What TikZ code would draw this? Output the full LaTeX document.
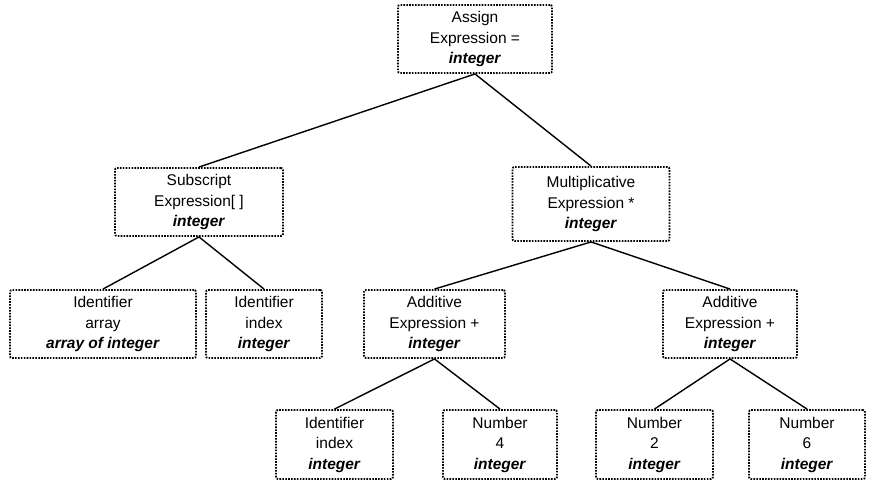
\documentclass[tikz,border=0pt]{standalone}
\usepackage{fontspec}
\setmainfont{Liberation Sans}
\begin{document}
\begin{tikzpicture}[x=1pt,y=-1pt,
  box/.style={draw, line width=1.9pt, dash pattern=on 1.6pt off 1.3pt, rounded corners=2pt,
    align=center, inner sep=0pt, font=\fontsize{15.5}{20.5}\selectfont},
  conn/.style={draw, line width=1.4pt}]
\useasboundingbox (0,0) rectangle (875,489);
\newcommand{\typ}[1]{\textbf{\textit{#1}}}
% top
\node[box, minimum width=154pt, minimum height=68pt] (assign) at (475,39) {Assign\\Expression =\\\typ{integer}};
% second row
\node[box, minimum width=168pt, minimum height=68pt] (sub) at (199,202) {Subscript\\Expression[ ]\\\typ{integer}};
\node[box, minimum width=157pt, minimum height=74pt] (mult) at (591,204) {Multiplicative\\Expression *\\\typ{integer}};
% third row
\node[box, minimum width=186pt, minimum height=68pt] (arr) at (103,324) {Identifier\\array\\\typ{array of integer}};
\node[box, minimum width=116pt, minimum height=68pt] (idx1) at (264,324) {Identifier\\index\\\typ{integer}};
\node[box, minimum width=141pt, minimum height=68pt] (addl) at (434.5,324) {Additive\\Expression +\\\typ{integer}};
\node[box, minimum width=134pt, minimum height=68pt] (addr) at (730,324) {Additive\\Expression +\\\typ{integer}};
% bottom row
\node[box, minimum width=117pt, minimum height=69pt] (idx2) at (334.5,444.5) {Identifier\\index\\\typ{integer}};
\node[box, minimum width=114pt, minimum height=69pt] (n4) at (500,444.5) {Number\\4\\\typ{integer}};
\node[box, minimum width=117pt, minimum height=69pt] (n2) at (654.5,444.5) {Number\\2\\\typ{integer}};
\node[box, minimum width=116pt, minimum height=69pt] (n6) at (807,444.5) {Number\\6\\\typ{integer}};
% connectors
\draw[conn] (assign.south) -- (sub.north);
\draw[conn] (assign.south) -- (mult.north);
\draw[conn] (sub.south) -- (arr.north);
\draw[conn] (sub.south) -- (idx1.north);
\draw[conn] (mult.south) -- (addl.north);
\draw[conn] (mult.south) -- (addr.north);
\draw[conn] (addl.south) -- (idx2.north);
\draw[conn] (addl.south) -- (n4.north);
\draw[conn] (addr.south) -- (n2.north);
\draw[conn] (addr.south) -- (n6.north);
\end{tikzpicture}
\end{document}
